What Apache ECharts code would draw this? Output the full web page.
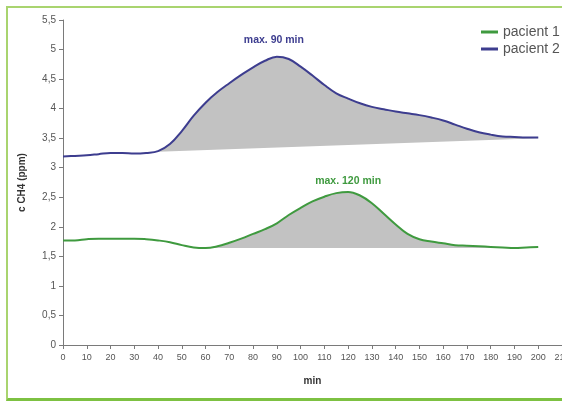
<!DOCTYPE html>
<html>
<head>
<meta charset="utf-8">
<script src="https://cdn.jsdelivr.net/npm/echarts@6/dist/echarts.min.js"></script>
<style>
  html, body { margin: 0; padding: 0; background: #fff; }
  #wrap { position: relative; width: 562px; height: 401px; overflow: hidden; }
  #chart { position: absolute; left: 0; top: 0; width: 562px; height: 401px; }
  #frame { position: absolute; left: 6px; top: 6px; width: 600px; height: 390px;
           border-left: 2px solid #a9d46f; border-top: 2px solid #a9d46f;
           border-bottom: 3px solid #7dc142; pointer-events: none; }
</style>
</head>
<body>
<div id="wrap"><div id="chart"></div><div id="frame"></div></div>
<script>
// ---- data ----
const minutes = [0,5,10,15,20,25,30,35,40,45,50,55,60,65,70,75,80,85,90,95,100,
                 105,110,115,120,125,130,135,140,145,150,155,160,165,170,175,180,185,190,195,200];
const pacient1 = [1.77,1.77,1.79,1.80,1.80,1.80,1.80,1.79,1.77,1.74,1.69,1.65,1.64,1.67,1.73,1.80,1.88,1.96,2.06,2.20,2.32,
                  2.43,2.51,2.57,2.59,2.53,2.40,2.22,2.04,1.88,1.79,1.75,1.72,1.69,1.68,1.67,1.66,1.65,1.64,1.65,1.66];
const pacient2 = [3.19,3.20,3.21,3.23,3.25,3.25,3.24,3.25,3.28,3.40,3.62,3.88,4.10,4.28,4.43,4.57,4.70,4.81,4.88,4.84,4.71,
                  4.56,4.40,4.26,4.17,4.09,4.03,3.99,3.95,3.92,3.89,3.85,3.80,3.73,3.66,3.60,3.56,3.53,3.52,3.51,3.51];
const seriesNames = ['pacient 1', 'pacient 2'];
// shaded areas: [startMin, endMin] and baseline values at start/end
const shade1Range = [55, 195];
const shade1Base = [1.64, 1.64];
const shade2Range = [40, 200];
const shade2Base = [3.27, 3.50];
const peakLabels = ['max. 120 min', 'max. 90 min'];
const yTicks = [0,0.5,1,1.5,2,2.5,3,3.5,4,4.5,5,5.5];
const xTicks = [0,10,20,30,40,50,60,70,80,90,100,110,120,130,140,150,160,170,180,190,200,210];

const colors = ['#3f9a3f', '#3d3d8f'];
const shadeColor = '#c2c2c2';

function pairs(vals) { return minutes.map((m, i) => [m, vals[i]]); }
function peakIndex(vals) { let k = 0; vals.forEach((v, i) => { if (v > vals[k]) k = i; }); return k; }

function shadeSeries(vals, range, base) {
  return {
    type: 'custom',
    silent: true,
    z: 1,
    data: [0],
    renderItem: function (params, api) {
      const pts = [];
      minutes.forEach((m, i) => {
        if (m >= range[0] && m <= range[1]) pts.push(api.coord([m, vals[i]]));
      });
      pts.push(api.coord([range[1], base[1]]));
      pts.push(api.coord([range[0], base[0]]));
      return { type: 'polygon', shape: { points: pts }, style: { fill: shadeColor } };
    }
  };
}

function lineSeries(idx, vals, labelOffset, dx) {
  const k = peakIndex(vals);
  return {
    name: seriesNames[idx],
    type: 'line',
    z: 3,
    smooth: 0.4,
    showSymbol: false,
    data: pairs(vals),
    lineStyle: { color: colors[idx], width: 2 },
    itemStyle: { color: colors[idx] },
    markPoint: {
      symbol: 'circle', symbolSize: 0,
      data: [{ coord: [minutes[k], vals[k]] }],
      label: { show: true, formatter: peakLabels[idx], position: 'top', offset: [dx, labelOffset],
               color: colors[idx], fontFamily: 'Liberation Sans', fontWeight: 'bold', fontSize: 10.5 }
    }
  };
}

const chart = echarts.init(document.getElementById('chart'), null, { renderer: 'canvas' });
chart.setOption({
  animation: false,
  backgroundColor: '#fff',
  textStyle: { fontFamily: 'Liberation Sans' },
  grid: { left: 63, top: 20, right: 0, bottom: 56, containLabel: false, outerBoundsMode: 'none' },
  legend: {
    orient: 'vertical', left: 476, top: 20, itemGap: 3,
    itemWidth: 17, itemHeight: 3, icon: 'rect',
    data: seriesNames,
    textStyle: { color: '#555', fontSize: 14, fontFamily: 'Liberation Sans' }
  },
  xAxis: {
    type: 'value', min: xTicks[0], max: xTicks[xTicks.length - 1], interval: 10,
    name: 'min', nameLocation: 'middle', nameGap: 31,
    nameTextStyle: { fontWeight: 'bold', fontSize: 10, color: '#333' },
    axisLine: { lineStyle: { color: '#7a7a7a', width: 1 } },
    axisTick: { show: true, length: 4, lineStyle: { color: '#7a7a7a' } },
    axisLabel: { color: '#555', fontSize: 9, margin: 8 },
    splitLine: { show: false }
  },
  yAxis: {
    type: 'value', min: yTicks[0], max: yTicks[yTicks.length - 1], interval: 0.5,
    name: 'c CH4 (ppm)', nameLocation: 'middle', nameGap: 36, nameRotate: 90,
    nameTextStyle: { fontWeight: 'bold', fontSize: 10, color: '#333' },
    axisLine: { show: true, lineStyle: { color: '#7a7a7a', width: 1 } },
    axisTick: { show: true, length: 4, lineStyle: { color: '#7a7a7a' } },
    axisLabel: { color: '#555', fontSize: 10, margin: 7,
                 formatter: v => String(v).replace('.', ',') },
    splitLine: { show: false }
  },
  series: [
    shadeSeries(pacient2, shade2Range, shade2Base),
    shadeSeries(pacient1, shade1Range, shade1Base),
    lineSeries(0, pacient1, 0, 0),
    lineSeries(1, pacient2, -6, -3)
  ]
});
</script>
</body>
</html>
